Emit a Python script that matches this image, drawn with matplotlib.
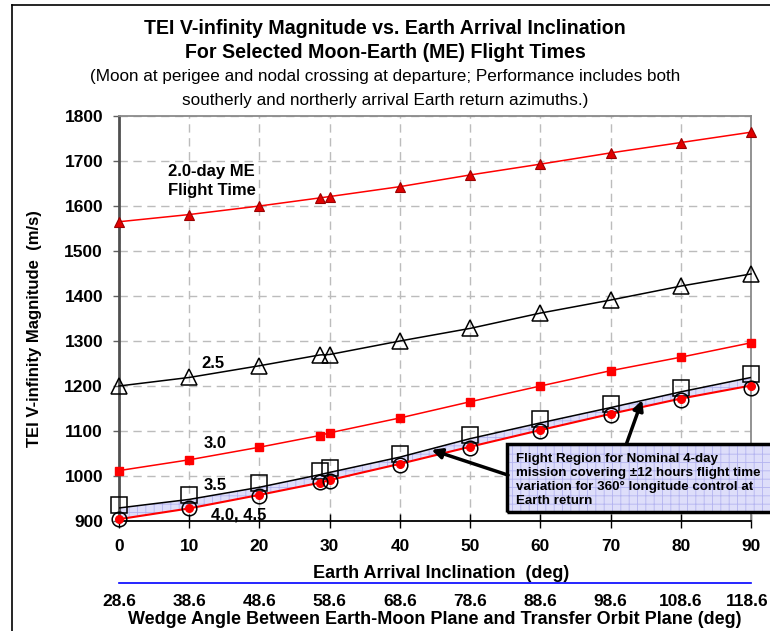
import matplotlib
matplotlib.use("Agg")
import matplotlib.pyplot as plt
from matplotlib.patches import Rectangle
from matplotlib.lines import Line2D
from matplotlib.transforms import ScaledTranslation

plt.rcParams["font.family"] = ["Liberation Sans", "DejaVu Sans"]
plt.rcParams["hatch.linewidth"] = 0.6

# Earth arrival inclination (deg) for each computed case
inclination = [0, 10, 20, 28.6, 30, 40, 50, 60, 70, 80, 90]

# TEI V-infinity magnitude (m/s) per Moon-Earth flight time
me_2_0 = [1565, 1581, 1600, 1618, 1621, 1643, 1669, 1693, 1718, 1741, 1764]
me_2_5 = [1200, 1219, 1245, 1269, 1270, 1300, 1328, 1362, 1391, 1422, 1449]
me_3_0 = [1012, 1036, 1064, 1090, 1096, 1129, 1165, 1200, 1234, 1264, 1296]
me_3_5 = [935, 958, 985, 1012, 1017, 1050, 1091, 1126, 1159, 1195, 1227]
me_4_0 = [904, 928, 955, 986, 989, 1024, 1063, 1100, 1136, 1170, 1195]
me_4_5 = [904, 928, 958, 985, 991, 1027, 1065, 1102, 1138, 1172, 1201]

# upper edge of the nominal 4-day (+/-12 h) flight region
band_upper = [929, 948, 975, 1003, 1008, 1042, 1083, 1118, 1152, 1187, 1219]

x_ticks = [0, 10, 20, 30, 40, 50, 60, 70, 80, 90]
y_ticks = [900, 1000, 1100, 1200, 1300, 1400, 1500, 1600, 1700, 1800]
wedge_offset = 28.6
wedge_labels = ["28.6", "38.6", "48.6", "58.6", "68.6", "78.6", "88.6", "98.6", "108.6", "118.6"]

W, H = 770, 631
fig = plt.figure(figsize=(W / 100, H / 100), dpi=100)
ax = fig.add_axes([119 / W, 1 - 521 / H, (751 - 119) / W, (521 - 116) / H])
ax.set_xlim(0, 90)
ax.set_ylim(900, 1800)

ax.set_xticks(x_ticks)
ax.set_yticks(y_ticks)
ax.grid(True, color="#bcbcbc", linestyle=(0, (6, 4)), linewidth=1)
ax.set_axisbelow(True)

for side, col, lw in [("left", "#505050", 2.0), ("bottom", "black", 1.3),
                      ("top", "#8a8a8a", 1.3), ("right", "#8a8a8a", 1.3)]:
    ax.spines[side].set_color(col)
    ax.spines[side].set_linewidth(lw)

ax.tick_params(axis="y", direction="out", length=4.5, width=1, color="#606060",
               pad=7, labelsize=12.5)
ax.tick_params(axis="x", direction="inout", length=10, width=1, color="black",
               pad=8, labelsize=12.5)
for lab in ax.get_xticklabels() + ax.get_yticklabels():
    lab.set_fontweight("bold")

# shaded flight region
fill_col = "#dedefa"
hatch_col = "#b4b4f0"
ax.fill_between(inclination, me_4_5, band_upper, facecolor=fill_col,
                edgecolor=hatch_col, hatch="++", linewidth=0, zorder=2)
ax.plot(inclination, band_upper, color="black", lw=1.1, zorder=3)

ax.plot(inclination, me_2_0, color="red", lw=1.1, marker="^", ms=6.5,
        mfc="#e00000", mec="#9a0000", mew=0.8, zorder=4, clip_on=False)
ax.plot(inclination, me_2_5, color="black", lw=1.1, marker="^", ms=11,
        mfc="none", mec="black", mew=1.1, zorder=4, clip_on=False)
ax.plot(inclination, me_3_0, color="red", lw=1.1, marker="s", ms=5.5,
        mfc="red", mec="red", zorder=4, clip_on=False)
ax.plot(inclination, me_3_5, ls="none", marker="s", ms=11,
        mfc="none", mec="black", mew=1.1, zorder=4, clip_on=False)
ax.plot(inclination, me_4_5, color="red", lw=1.5, marker="o", ms=5.5,
        mfc="red", mec="red", zorder=4, clip_on=False)
ax.plot(inclination, me_4_0, ls="none", marker="o", ms=10.5,
        mfc="none", mec="black", mew=1.1, zorder=5, clip_on=False)

# series labels
lbl = dict(fontsize=12, fontweight="bold", ha="center", va="center", zorder=6)
ax.text(13.2, 1655, "2.0-day ME\nFlight Time", linespacing=1.35, **lbl)
ax.text(13.4, 1249, "2.5", **lbl)
ax.text(13.7, 1073, "3.0", **lbl)
ax.text(13.7, 978, "3.5", **lbl)
ax.text(17.1, 913, "4.0, 4.5", **lbl)

# callout box for the flight region
box_x, box_y0, box_y1 = 55.25, 920, 1071
ax.add_patch(Rectangle((box_x, box_y0), 50, box_y1 - box_y0, facecolor=fill_col,
                       edgecolor=hatch_col, hatch="++", linewidth=0,
                       clip_on=False, zorder=7))
ax.add_patch(Rectangle((box_x, box_y0), 50, box_y1 - box_y0, facecolor="none",
                       edgecolor="black", linewidth=2.5, clip_on=False, zorder=8))
ax.text(56.5, 1052, "Flight Region for Nominal 4-day\n"
        "mission covering ±12 hours flight time\n"
        "variation for 360° longitude control at\n"
        "Earth return", fontsize=9.6, fontweight="bold", ha="left", va="top",
        linespacing=1.22, zorder=9, clip_on=False)

arrow = dict(arrowstyle="-|>", lw=2.5, color="black", mutation_scale=15,
             shrinkA=0, shrinkB=0)
ax.annotate("", xy=(44.5, 1058), xytext=(55.4, 1002), arrowprops=arrow,
            annotation_clip=False, zorder=9)
ax.annotate("", xy=(74.5, 1169), xytext=(72.3, 1073), arrowprops=arrow,
            annotation_clip=False, zorder=9)

# axis labels
ax.set_xlabel("Earth Arrival Inclination  (deg)", fontsize=13, fontweight="bold",
              labelpad=2)
ax.xaxis.set_label_coords(0.509, -0.108)
ax.set_ylabel("TEI V-infinity Magnitude  (m/s)", fontsize=12, fontweight="bold")
ax.yaxis.set_label_coords(-0.122, 0.474)

# secondary scale: wedge angle between Earth-Moon plane and transfer orbit plane
sec = ax.secondary_xaxis(-(583 - 521) / 405,
                         functions=(lambda x: x + wedge_offset,
                                    lambda x: x - wedge_offset))
sec.set_xticks([t + wedge_offset for t in x_ticks])
sec.set_xticklabels(wedge_labels, fontsize=12.5, fontweight="bold")
sec.tick_params(length=0, pad=8)
sec.spines["bottom"].set_color("#0000ff")
sec.spines["bottom"].set_linewidth(1.2)
sec.set_xlabel("Wedge Angle Between Earth-Moon Plane and Transfer Orbit Plane (deg)",
               fontsize=13, fontweight="bold", labelpad=1)
# nudge the last wedge label so it stays inside the figure edge
last = sec.get_xticklabels()[-1]
last.set_transform(last.get_transform() + ScaledTranslation(-4 / 100, 0, fig.dpi_scale_trans))

# titles
fig.text(0.5, 1 - 28 / H, "TEI V-infinity Magnitude vs. Earth Arrival Inclination",
         ha="center", va="center", fontsize=14.1, fontweight="bold")
fig.text(0.5, 1 - 52 / H, "For Selected Moon-Earth (ME) Flight Times",
         ha="center", va="center", fontsize=14.1, fontweight="bold")
fig.text(0.5, 1 - 76 / H,
         "(Moon at perigee and nodal crossing at departure; Performance includes both",
         ha="center", va="center", fontsize=12.3)
fig.text(0.5, 1 - 100 / H, "southerly and northerly arrival Earth return azimuths.)",
         ha="center", va="center", fontsize=12.3)

# outer chart frame
fig.add_artist(Line2D([12 / W, 12 / W], [0, 1 - 5 / H], transform=fig.transFigure,
                      color="black", lw=1.2))
fig.add_artist(Line2D([12 / W, 1], [1 - 5 / H, 1 - 5 / H], transform=fig.transFigure,
                      color="black", lw=1.2))

fig.savefig("out.png", dpi=100)
